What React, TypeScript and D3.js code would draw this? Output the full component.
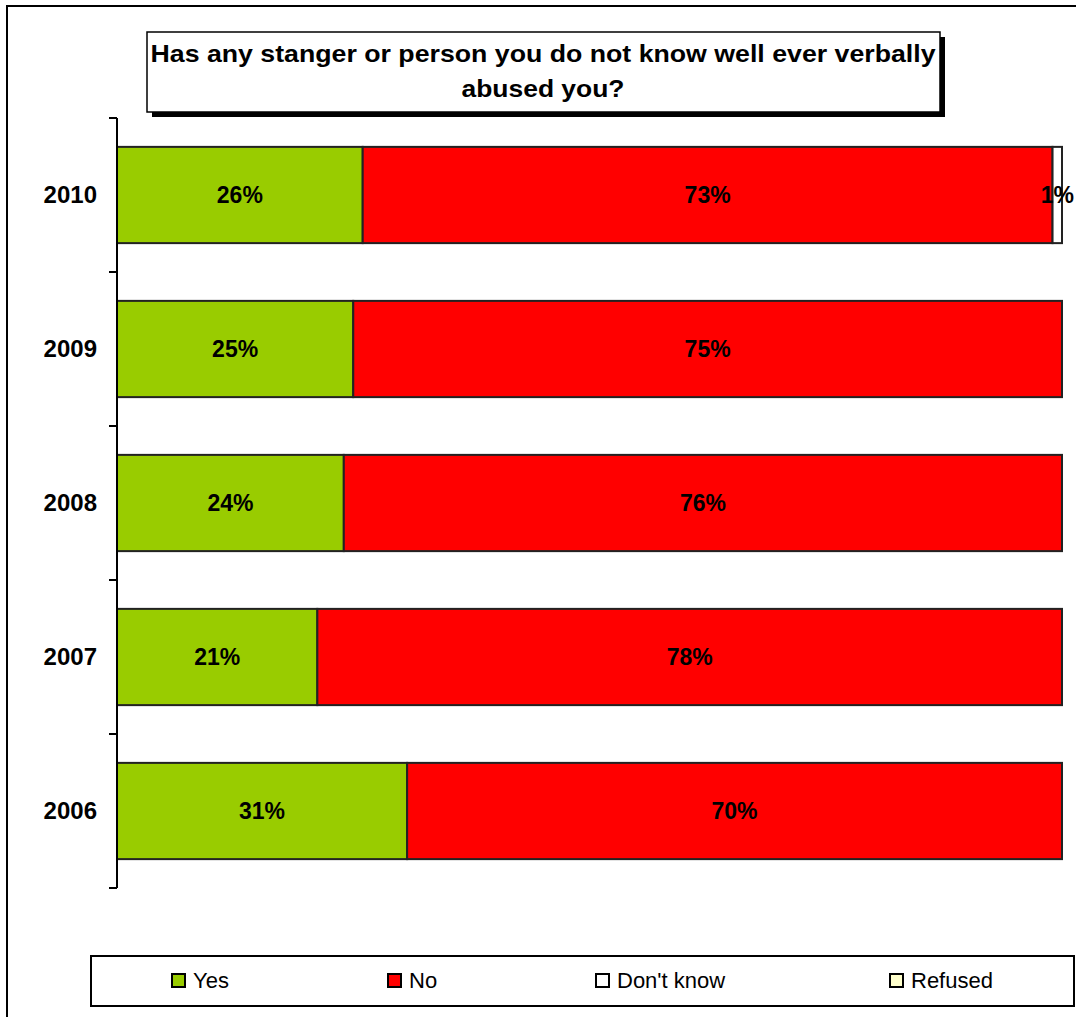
import React from "react";
import * as d3 from "d3";

const years = ["2010", "2009", "2008", "2007", "2006"];
const yesValues = [26, 25, 24, 21.2, 30.7];
const noValues = [73, 75, 76, 78.8, 69.3];
const dkValues = [1, 0, 0, 0, 0];
const refusedValues = [0, 0, 0, 0, 0];
const yesLabels = ["26%", "25%", "24%", "21%", "31%"];
const noLabels = ["73%", "75%", "76%", "78%", "70%"];
const dkLabels = ["1%", "", "", "", ""];
const seriesNames = ["Yes", "No", "Don't know", "Refused"];
const seriesColors = ["#99CC00", "#FF0000", "#FFFFFF", "#FFFFCC"];
const title = ["Has any stanger or person you do not know well ever verbally", "abused you?"];

const FONT = "'Liberation Sans', Arial, sans-serif";

export default function App() {
  const W = 1076, H = 1017;
  const x = d3.scaleLinear().domain([0, 100]).range([117, 1062]);
  const y = d3.scaleBand().domain(years).range([118, 888]).paddingInner(0.375).paddingOuter(0.1875);
  const bandStep = y.step();
  const series = [yesValues, noValues, dkValues, refusedValues];
  const labels = [yesLabels, noLabels, dkLabels, []];
  const legendX = [171, 387, 595, 889];
  const titleWidths = [785, 163];
  const tickYs = d3.range(years.length + 1).map((i) => 118 + i * bandStep);

  return (
    <svg width={W} height={H} style={{ position: "absolute", left: 0, top: 0, background: "#fff" }} fontFamily={FONT}>
      <rect x={0} y={0} width={W} height={H} fill="#fff" />
      {/* outer border */}
      <rect x={7} y={6} width={1090} height={1030} fill="none" stroke="#000" strokeWidth={2} />

      {/* title box */}
      <rect x={152} y={37} width={793} height={80} fill="#000" />
      <rect x={147} y={32} width={793} height={80} fill="#fff" stroke="#000" strokeWidth={1.5} />
      {title.map((t, i) => (
        <text key={i} x={543} y={62 + i * 35} textAnchor="middle" fontWeight="bold" fontSize={24}
          textLength={titleWidths[i]} lengthAdjust="spacingAndGlyphs">{t}</text>
      ))}

      {/* bars */}
      {years.map((yr, i) => {
        let cum = 0;
        return (
          <g key={yr}>
            {series.map((s, k) => {
              const v = s[i];
              const x0 = x(cum);
              cum += v;
              if (v <= 0) return null;
              const x1 = x(cum);
              return (
                <rect key={k} x={x0} y={y(yr)!} width={x1 - x0} height={y.bandwidth()} fill={seriesColors[k]} stroke="#222" strokeWidth={2} />
              );
            })}
          </g>
        );
      })}
      {/* labels */}
      {years.map((yr, i) => {
        let cum = 0;
        return (
          <g key={"l" + yr}>
            {series.map((s, k) => {
              const v = s[i];
              const mid = x(cum + v / 2);
              cum += v;
              const lab = labels[k][i];
              if (!lab) return null;
              return (
                <text key={k} x={mid} y={y(yr)! + y.bandwidth() / 2 + 8} textAnchor="middle" fontWeight="bold" fontSize={23}>{lab}</text>
              );
            })}
          </g>
        );
      })}

      {/* axis */}
      <line x1={117} x2={117} y1={118} y2={888} stroke="#000" strokeWidth={2} />
      {tickYs.map((ty, i) => (
        <line key={i} x1={109} x2={117} y1={ty} y2={ty} stroke="#000" strokeWidth={2} />
      ))}
      {years.map((yr) => (
        <text key={yr} x={97} y={y(yr)! + y.bandwidth() / 2 + 8} textAnchor="end" fontWeight="bold" fontSize={24}>{yr}</text>
      ))}

      {/* legend */}
      <rect x={91} y={956} width={983} height={50} fill="#fff" stroke="#000" strokeWidth={2} />
      {seriesNames.map((n, k) => (
        <g key={n}>
          <rect x={legendX[k] + 1} y={974} width={13} height={13} fill={seriesColors[k]} stroke="#000" strokeWidth={2} />
          <text x={legendX[k] + 22} y={988} fontSize={22}>{n}</text>
        </g>
      ))}
    </svg>
  );
}
